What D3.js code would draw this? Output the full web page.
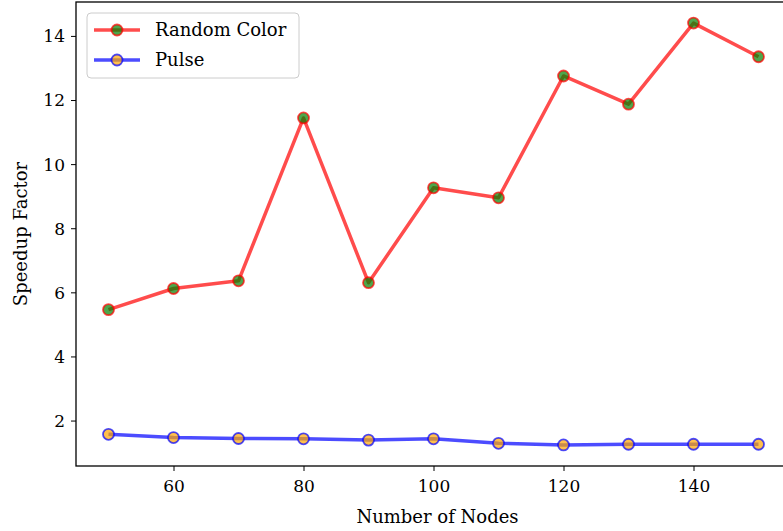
<!DOCTYPE html>
<html>
<head>
<meta charset="utf-8">
<script src="https://cdn.jsdelivr.net/npm/d3@7"></script>
<style>
  body { margin: 0; background: #fff; }
  svg { display: block; font-family: "DejaVu Serif", serif; }
  .tick text { font-size: 17px; fill: #000; font-family: "DejaVu Serif", serif; }
</style>
</head>
<body>
<script>
const W = 783, H = 531;
const LEFT = 76, RIGHT = 791, TOP = 2, BOTTOM = 466;

const nodes = [50, 60, 70, 80, 90, 100, 110, 120, 130, 140, 150];
const randomColor = [5.46, 6.12, 6.36, 11.44, 6.30, 9.26, 8.95, 12.75, 11.87, 14.40, 13.35];
const pulse = [1.57, 1.47, 1.44, 1.43, 1.39, 1.43, 1.29, 1.24, 1.26, 1.26, 1.26];
const xTicks = [60, 80, 100, 120, 140];
const yTicks = [2, 4, 6, 8, 10, 12, 14];

const series = [
  {name: "Random Color", values: randomColor, line: "#ff0000", face: "#008000"},
  {name: "Pulse", values: pulse, line: "#0000ff", face: "#ffa500"}
];

const svg = d3.select("body").append("svg").attr("width", W).attr("height", H);

// matplotlib style 5% margins
let xPad = (d3.max(nodes) - d3.min(nodes)) * 0.05;
let allY = randomColor.concat(pulse);
let yPad = (d3.max(allY) - d3.min(allY)) * 0.05;

const x = d3.scaleLinear().domain([d3.min(nodes) - xPad, d3.max(nodes) + xPad]).range([LEFT, RIGHT]);
const y = d3.scaleLinear().domain([d3.min(allY) - yPad, d3.max(allY) + yPad]).range([BOTTOM, TOP]);

// lines and markers
const line = d3.line().x((d, i) => x(nodes[i])).y(d => y(d));
series.forEach(s => {
  svg.append("path")
    .attr("d", line(s.values))
    .attr("fill", "none")
    .attr("stroke", s.line)
    .attr("stroke-opacity", 0.7)
    .attr("stroke-width", 3.5)
    .attr("stroke-linejoin", "round");
  svg.append("g").selectAll("circle")
    .data(s.values)
    .enter()
    .append("circle")
    .attr("cx", (d, i) => x(nodes[i]))
    .attr("cy", d => y(d))
    .attr("r", 5.5)
    .attr("fill", s.face)
    .attr("fill-opacity", 0.7)
    .attr("stroke", s.line)
    .attr("stroke-opacity", 0.7)
    .attr("stroke-width", 1.8);
});

// axes
const xAxis = svg.append("g").attr("transform", "translate(0," + BOTTOM + ")")
  .call(d3.axisBottom(x).tickValues(xTicks).tickSize(5).tickPadding(5).tickFormat(d3.format("d")));
const yAxis = svg.append("g").attr("transform", "translate(" + LEFT + ",0)")
  .call(d3.axisLeft(y).tickValues(yTicks).tickSize(5).tickPadding(6).tickFormat(d3.format("d")));
[xAxis, yAxis].forEach(a => {
  a.attr("font-family", null).attr("font-size", null);
  a.select(".domain").remove();
  a.selectAll(".tick line").attr("stroke", "#000").attr("stroke-width", 1);
});
xAxis.selectAll(".tick text").attr("dy", "0.95em");
yAxis.selectAll(".tick text").attr("dy", "0.35em");

// spines
svg.append("rect")
  .attr("x", LEFT).attr("y", TOP)
  .attr("width", RIGHT - LEFT).attr("height", BOTTOM - TOP)
  .attr("fill", "none").attr("stroke", "#000").attr("stroke-width", 1.3);

// axis labels
svg.append("text")
  .attr("x", (LEFT + RIGHT) / 2 + 4).attr("y", 523)
  .attr("text-anchor", "middle").attr("font-size", 18)
  .text("Number of Nodes");
svg.append("text")
  .attr("transform", "translate(27," + (TOP + BOTTOM) / 2 + ") rotate(-90)")
  .attr("text-anchor", "middle").attr("font-size", 18)
  .text("Speedup Factor");

// legend
const legend = svg.append("g").attr("transform", "translate(87,13)");
legend.append("rect")
  .attr("width", 212).attr("height", 65).attr("rx", 4)
  .attr("fill", "#fff").attr("fill-opacity", 0.8)
  .attr("stroke", "#cccccc").attr("stroke-width", 1);
const items = legend.selectAll("g.item")
  .data(series)
  .enter()
  .append("g")
  .attr("class", "item")
  .attr("transform", (d, i) => "translate(0," + (17 + i * 30) + ")");
items.append("line")
  .attr("x1", 7).attr("x2", 53)
  .attr("stroke", d => d.line).attr("stroke-opacity", 0.7).attr("stroke-width", 3.5);
items.append("circle")
  .attr("cx", 30).attr("r", 5.5)
  .attr("fill", d => d.face).attr("fill-opacity", 0.7)
  .attr("stroke", d => d.line).attr("stroke-opacity", 0.7).attr("stroke-width", 1.8);
items.append("text")
  .attr("x", 68).attr("dy", "0.35em")
  .attr("font-size", 18)
  .text(d => d.name);
</script>
</body>
</html>
